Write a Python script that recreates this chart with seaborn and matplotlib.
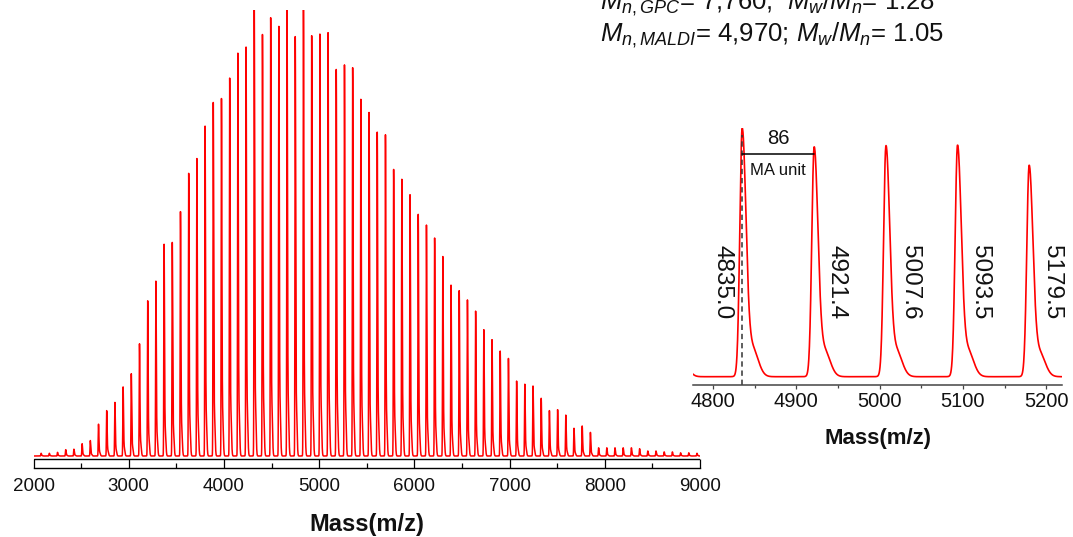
import numpy as np
import pandas as pd
import matplotlib
matplotlib.use("Agg")
import matplotlib.pyplot as plt
from matplotlib.ticker import MultipleLocator
import seaborn as sns

# ---------------- data ----------------
peak_mass = [
    2079.8, 2165.9, 2252.0, 2338.1, 2424.2, 2510.3, 2596.4, 2682.5, 2768.6, 2854.7,
    2940.8, 3026.9, 3113.0, 3199.1, 3285.2, 3371.3, 3457.4, 3543.5, 3629.6, 3715.7,
    3801.8, 3887.9, 3974.0, 4060.1, 4146.2, 4232.3, 4318.4, 4404.5, 4490.6, 4576.7,
    4662.8, 4748.9, 4835.0, 4921.4, 5007.6, 5093.5, 5179.5, 5265.6, 5351.7, 5437.8,
    5523.9, 5610.0, 5696.1, 5782.2, 5868.3, 5954.4, 6040.5, 6126.6, 6212.7, 6298.8,
    6384.9, 6471.0, 6557.1, 6643.2, 6729.3, 6815.4, 6901.5, 6987.6, 7073.7, 7159.8,
    7245.9, 7332.0, 7418.1, 7504.2, 7590.3, 7676.4, 7762.5, 7848.6, 7934.7, 8020.8,
    8106.9, 8193.0, 8279.1, 8365.2, 8451.3, 8537.4, 8623.5, 8709.6, 8795.7, 8881.8,
    8967.9,
]
peak_intensity = [
    0.006, 0.006, 0.008, 0.014, 0.015, 0.027, 0.034, 0.070, 0.100, 0.118,
    0.152, 0.181, 0.247, 0.342, 0.385, 0.466, 0.470, 0.538, 0.623, 0.655,
    0.726, 0.778, 0.787, 0.833, 0.887, 0.900, 0.991, 0.928, 0.966, 0.946,
    0.982, 0.923, 1.000, 0.925, 0.930, 0.932, 0.851, 0.862, 0.855, 0.785,
    0.756, 0.713, 0.708, 0.631, 0.609, 0.575, 0.532, 0.509, 0.480, 0.439,
    0.376, 0.364, 0.344, 0.319, 0.278, 0.256, 0.231, 0.215, 0.165, 0.158,
    0.154, 0.127, 0.100, 0.102, 0.090, 0.061, 0.066, 0.052, 0.018, 0.018,
    0.018, 0.018, 0.018, 0.016, 0.011, 0.011, 0.009, 0.009, 0.007, 0.007,
    0.006,
]
label_mass = [4835.0, 4921.4, 5007.6, 5093.5, 5179.5]
label_text = ["4835.0", "4921.4", "5007.6", "5093.5", "5179.5"]
main_ticks = [2000, 3000, 4000, 5000, 6000, 7000, 8000, 9000]
inset_ticks = [4800, 4900, 5000, 5100, 5200]
unit_value = "86"
unit_name = "MA unit"
x_label = "Mass(m/z)"
info_line1 = r"$M_{n,GPC}$= 7,760;  $M_w$/$M_n$= 1.28"
info_line2 = r"$M_{n,MALDI}$= 4,970; $M_w$/$M_n$= 1.05"


def spectrum(x, masses, heights):
    """Render the peak list as a mass-spectrum trace (tailing peak shape)."""
    y = np.zeros_like(x)
    for m, h in zip(masses, heights):
        d = x - m
        s = np.where(d < 0, 2.8, 4.5)
        y += h * (np.exp(-0.5 * (d / s) ** 2)
                  + 0.12 * np.exp(-0.5 * ((d - 12.0) / 7.0) ** 2))
    return y


# ---------------- style ----------------
sns.set_theme(style="white")
plt.rcParams["font.family"] = ["Liberation Sans", "DejaVu Sans"]
plt.rcParams["mathtext.fontset"] = "custom"
plt.rcParams["mathtext.it"] = "Liberation Sans:italic"
plt.rcParams["mathtext.rm"] = "Liberation Sans"
plt.rcParams["mathtext.bf"] = "Liberation Sans:bold"

W, H = 1073, 537
fig = plt.figure(figsize=(W / 100, H / 100), dpi=100)


def px_axes(left, top, right, bottom):
    return fig.add_axes([left / W, (H - bottom) / H, (right - left) / W, (bottom - top) / H])


# ---------------- main spectrum ----------------
ax = px_axes(33.5, 10, 700, 468.3)
xm = np.arange(2000.0, 9000.01, 0.5)
df_main = pd.DataFrame({"mass": xm, "intensity": spectrum(xm, peak_mass, peak_intensity)})
sns.lineplot(data=df_main, x="mass", y="intensity", ax=ax, color="#ff0000",
             linewidth=1.1, estimator=None, sort=False)
ax.set_xlim(2000, 9000)
ax.set_ylim(-12.3 / 442, 1 + 4 / 442)
ax.axhline(-3.3 / 442, color="black", lw=1.0)
for s in ["top", "left", "right"]:
    ax.spines[s].set_visible(False)
ax.spines["bottom"].set_color("black")
ax.spines["bottom"].set_linewidth(1.0)
ax.set_xticks(main_ticks)
ax.set_xticklabels([str(t) for t in main_ticks])
ax.xaxis.set_minor_locator(MultipleLocator(500))
ax.tick_params(axis="x", which="major", direction="in", length=6.6, width=0.9,
               color="black", labelsize=13.5, pad=7, bottom=True, labelcolor="#111111")
ax.tick_params(axis="x", which="minor", direction="in", length=3.6, width=0.9,
               color="black", bottom=True)
ax.set_yticks([])
ax.set_ylabel("")
ax.set_xlabel(x_label, fontsize=17, fontweight="bold", labelpad=13, color="#111111")

# ---------------- inset (zoom on 4800-5200) ----------------
ins = px_axes(693, 128, 1062, 385)
xi = np.arange(4776.0, 5219.0, 0.25)
df_ins = pd.DataFrame({"mass": xi, "intensity": spectrum(xi, peak_mass, peak_intensity)})
sns.lineplot(data=df_ins, x="mass", y="intensity", ax=ins, color="#ff0000",
             linewidth=1.2, estimator=None, sort=False)
ins.set_xlim(4776, 5219)
ins.set_ylim(-8.3 / 241.7, 1 + 7 / 241.7)
ins.patch.set_alpha(0)
for s in ["top", "left", "right"]:
    ins.spines[s].set_visible(False)
ins.spines["bottom"].set_color("#444444")
ins.spines["bottom"].set_linewidth(1.1)
ins.set_xticks(inset_ticks)
ins.set_xticklabels([str(t) for t in inset_ticks])
ins.xaxis.set_minor_locator(MultipleLocator(50))
ins.tick_params(axis="x", which="major", direction="out", length=3, width=0.9,
                color="#444444", labelsize=14.5, pad=2, bottom=True, labelcolor="#111111")
ins.tick_params(axis="x", which="minor", direction="out", length=2, width=0.9,
                color="#444444", bottom=True)
ins.set_yticks([])
ins.set_ylabel("")
ins.set_xlabel(x_label, fontsize=16, fontweight="bold", labelpad=12, color="#111111")

# dashed marker at the first labelled peak
ins.plot([label_mass[0], label_mass[0]], [ins.get_ylim()[0], 1.0], color="#333333",
         lw=1.1, ls=(0, (3.5, 2.5)))
# repeat-unit bracket
ins.plot([label_mass[0], label_mass[1]], [0.920, 0.920], color="black", lw=1.1)
ins.text((label_mass[0] + label_mass[1]) / 2, 0.945, unit_value, ha="center",
         va="bottom", fontsize=14.5, color="#111111")
ins.text((label_mass[0] + label_mass[1]) / 2, 0.855, unit_name, ha="center",
         va="center", fontsize=12, color="#111111")

# rotated peak labels
offsets = [-23, 27, 29, 27, 27]
for m, t, o in zip(label_mass, label_text, offsets):
    ins.text(m + o, 0.392, t, rotation=-90, ha="center", va="center", fontsize=17.5,
             color="#111111")

# ---------------- molecular-weight info ----------------
fig.text(600 / W, (H - 9) / H, info_line1, fontsize=18.5, ha="left", va="baseline",
         color="#111111")
fig.text(600 / W, (H - 41) / H, info_line2, fontsize=18.5, ha="left", va="baseline",
         color="#111111")

fig.savefig("out.png", dpi=100)
